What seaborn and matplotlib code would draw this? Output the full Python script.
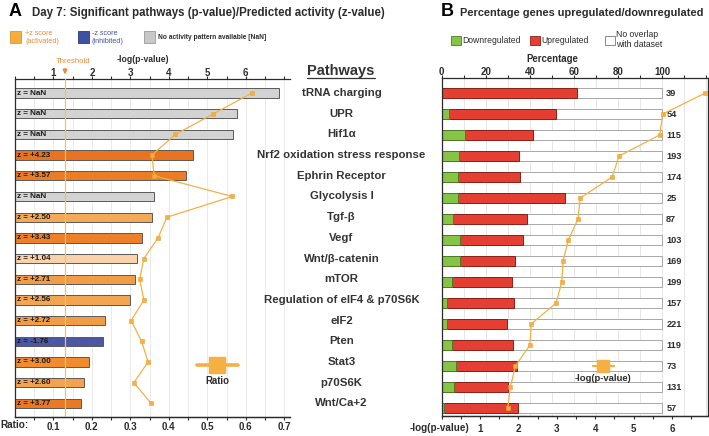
import numpy as np
import pandas as pd
import matplotlib
matplotlib.use("Agg")
import matplotlib.pyplot as plt
from matplotlib.colors import LinearSegmentedColormap
from matplotlib.patches import Rectangle
from matplotlib.lines import Line2D
from matplotlib.transforms import blended_transform_factory
import seaborn as sns

# values
pathways = ["tRNA charging", "UPR", "Hif1α", "Nrf2 oxidation stress response",
            "Ephrin Receptor", "Glycolysis I", "Tgf-β", "Vegf", "Wnt/β-catenin",
            "mTOR", "Regulation of eIF4 & p70S6K", "eIF2", "Pten", "Stat3",
            "p70S6K", "Wnt/Ca+2"]
neg_log_p = [6.87, 5.76, 5.68, 4.62, 4.44, 3.61, 3.55, 3.30, 3.16, 3.13,
             2.98, 2.33, 2.30, 1.92, 1.79, 1.72]
z_score = [np.nan, np.nan, np.nan, 4.23, 3.57, np.nan, 2.50, 3.43, 1.04, 2.71,
           2.56, 2.72, -1.76, 3.00, 2.60, 3.77]
ratio = [0.616, 0.516, 0.417, 0.356, 0.362, 0.565, 0.395, 0.372, 0.335, 0.324,
         0.335, 0.302, 0.329, 0.346, 0.309, 0.354]
down_pct = [0.0, 3.1, 10.7, 8.0, 7.2, 7.6, 5.2, 8.3, 8.3, 4.5, 2.6, 2.2, 4.5, 6.4, 5.7, 1.1]
up_pct = [61.4, 48.8, 30.9, 27.2, 28.3, 48.4, 33.7, 28.6, 24.8, 27.5, 30.2, 27.4,
          27.9, 27.8, 24.5, 33.7]
n_genes = [39, 54, 115, 193, 174, 25, 87, 103, 169, 199, 157, 221, 119, 73, 131, 57]
threshold = -np.log10(0.05)

df = pd.DataFrame({"pathway": pathways, "logp": neg_log_p, "z": z_score, "ratio": ratio,
                   "down": down_pct, "up": up_pct, "n": n_genes})
df["row"] = np.arange(len(df))
df["total"] = df["down"] + df["up"]
df["full"] = 100.0

sns.set_style("ticks")
plt.rcParams["font.family"] = ["Liberation Sans", "DejaVu Sans"]

W, H = 709, 436
fig = plt.figure(figsize=(W / 100, H / 100), dpi=100)


def fx(x):
    return x / W


def fy(y):
    return 1 - y / H


ORANGE_PT = "#f5b043"
DARK = "#2b2b2b"

zmap = LinearSegmentedColormap.from_list(
    "z", [(0, "#f9d3ae"), (0.45, "#f4aa58"), (0.6, "#f08c30"), (0.8, "#ec7b24"), (1, "#e9721f")])


def z_color(z):
    if np.isnan(z):
        return "#d3d3d3"
    if z < 0:
        return "#4a58a6"
    return zmap((z - 1.0) / 3.3)


def style_axis(a, side, ticks, labels, pad=1):
    if side == "top":
        a.xaxis.tick_top()
    else:
        a.xaxis.tick_bottom()
    a.set_xticks(ticks)
    a.set_xticklabels(labels, fontweight="bold", fontsize=7.0, color=DARK)
    a.tick_params(axis="x", direction="out", length=2.5, width=0.8, pad=pad, color=DARK)
    a.set_xlabel("")
    a.set_ylabel("")


palette = {p: z_color(z) for p, z in zip(df.pathway, df.z)}

# ---------------- panel A ----------------
ax = fig.add_axes([fx(15), fy(417), (290 - 15) / W, (417 - 79) / H])
sns.barplot(data=df, x="logp", y="pathway", hue="pathway", palette=palette, legend=False,
            width=0.45, saturation=1, errorbar=None, edgecolor="#5a5a5a", linewidth=0.7, ax=ax)
ax.axvline(threshold, color="#f7c352", lw=0.9, zorder=3)
for i, z in enumerate(df.z):
    lbl = "z = NaN" if np.isnan(z) else f"z = {z:+.2f}"
    ax.text(0.06, i, lbl, va="center", ha="left", fontsize=5.8, fontweight="bold", color="#1a1a1a")

axr = ax.twiny()
sns.lineplot(data=df, x="ratio", y="row", orient="y", sort=False, estimator=None, ax=axr,
             color=ORANGE_PT, lw=0.9, marker="s", ms=3.3, mec="#f0a030", mew=0.4)

ax.set_xlim(0, 7.15)
ax.set_ylim(15.66, -0.68)
ax.set_yticks([])
ticks = np.arange(0, 7.01, 0.5)
style_axis(ax, "top", ticks, [str(int(t)) if t % 1 == 0 and 1 <= t <= 6 else "" for t in ticks], pad=-1.5)
ax.grid(axis="x", color="#e6e6e6", lw=0.6)
ax.set_axisbelow(True)
ax.spines["right"].set_visible(False)
for s in ["left", "top", "bottom"]:
    ax.spines[s].set_linewidth(0.9)
    ax.spines[s].set_color(DARK)

axr.set_xlim(0, 0.715)
axr.set_ylim(15.66, -0.68)
rt = np.round(np.arange(0.05, 0.716, 0.05), 2)
style_axis(axr, "bottom", rt, [f"{t:.1f}" if round(t * 10) == t * 10 else "" for t in rt])
for s in ["right", "top", "left"]:
    axr.spines[s].set_visible(False)
axr.spines["bottom"].set_linewidth(0.9)
axr.spines["bottom"].set_color(DARK)

# pathway names between the panels
trans = blended_transform_factory(fig.transFigure, ax.transData)
for i, p in enumerate(df.pathway):
    ax.text(fx(341.5), i, p, transform=trans, ha="center", va="center", fontsize=8.2,
            fontweight="bold", color="#333333", clip_on=False)
fig.text(fx(341), fy(71), "Pathways", ha="center", va="center", fontsize=10.5,
         fontweight="bold", color="#333333")
fig.add_artist(Line2D([fx(306.5), fx(375.5)], [fy(78.5), fy(78.5)], transform=fig.transFigure,
                      color="#333333", lw=0.9))

# threshold label
fig.text(fx(73.5), fy(61.5), "Threshold", ha="center", va="center", fontsize=5.6, color="#ee8a3c")
ax.annotate("", xy=(threshold, 1.005), xycoords=ax.get_xaxis_transform(),
            xytext=(threshold, 1.038), textcoords=ax.get_xaxis_transform(),
            arrowprops=dict(arrowstyle="-|>", color="#ee8a3c", lw=1.2, mutation_scale=6))
fig.text(fx(143), fy(59), "-log(p-value)", ha="center", va="center", fontsize=6.2,
         fontweight="bold", color=DARK)
fig.text(fx(0.5), fy(424.5), "Ratio:", ha="left", va="center", fontsize=7.2,
         fontweight="bold", color=DARK)

# ratio key
fig.add_artist(Line2D([fx(197), fx(238)], [fy(365), fy(365)], transform=fig.transFigure,
                      color=ORANGE_PT, lw=2.6))
fig.add_artist(Line2D([fx(217)], [fy(365)], transform=fig.transFigure, marker="s", ms=11,
                      color=ORANGE_PT, mec=ORANGE_PT, lw=0))
fig.text(fx(217), fy(381), "Ratio", ha="center", va="center", fontsize=6.9,
         fontweight="bold", color=DARK)

# titles
fig.text(fx(9), fy(12), "A", ha="left", va="center", fontsize=13, fontweight="bold", color="black")
fig.text(fx(32), fy(13), "Day 7: Significant pathways (p-value)/Predicted activity (z-value)",
         ha="left", va="center", fontsize=8.3, fontweight="bold", color=DARK)
fig.text(fx(441), fy(12), "B", ha="left", va="center", fontsize=13, fontweight="bold", color="black")
fig.text(fx(460.5), fy(13), "Percentage genes upregulated/downregulated",
         ha="left", va="center", fontsize=7.9, fontweight="bold", color=DARK)

# legend A
for x0, col, ec in [(10, "#f5ad3c", "#e0962a"), (77.5, "#3f51a3", "#2c3a80"), (143.5, "#c8c8c8", "#9a9a9a")]:
    fig.add_artist(Rectangle((fx(x0), fy(43.5)), 11 / W, 12.5 / H, transform=fig.transFigure,
                             facecolor=col, edgecolor=ec, lw=0.6))
fig.text(fx(25), fy(37.5), "+z score\n(activated)", ha="left", va="center", fontsize=5.2,
         color="#ec8a3a", linespacing=1.25)
fig.text(fx(91.5), fy(37.5), "-z score\n(inhibited)", ha="left", va="center", fontsize=5.2,
         color="#4655a0", linespacing=1.25)
fig.text(fx(158.3), fy(37.7), "No activity pattern available [NaN]", ha="left", va="center",
         fontsize=4.8, fontweight="bold", color=DARK)

# ---------------- panel B ----------------
axb = fig.add_axes([fx(441.7), fy(416), (707.7 - 441.7) / W, (416 - 78.3) / H])
bar_kw = dict(y="pathway", width=0.44, saturation=1, errorbar=None, linewidth=0.7, ax=axb)
sns.barplot(data=df, x="full", color="white", edgecolor="#a8a8a8", **bar_kw)
sns.barplot(data=df, x="total", color="#e53f34", edgecolor="#8c1f18", **bar_kw)
sns.barplot(data=df, x="down", color="#86c445", edgecolor="#4f7a25", **bar_kw)
for i, n in enumerate(df.n):
    axb.text(101.8, i, str(n), va="center", ha="left", fontsize=6.6, fontweight="bold", color=DARK)

axb2 = axb.twiny()
sns.lineplot(data=df, x="logp", y="row", orient="y", sort=False, estimator=None, ax=axb2,
             color=ORANGE_PT, lw=0.9, marker="s", ms=3.3, mec="#f0a030", mew=0.4)

axb.set_xlim(0, 120.6)
axb.set_ylim(15.38, -0.70)
axb.set_yticks([])
pt = np.arange(0, 121, 10)
style_axis(axb, "top", pt, [str(t) if t % 20 == 0 and t <= 100 else "" for t in pt], pad=-1.5)
axb.grid(axis="x", color="#e2e2e2", lw=0.6)
axb.set_axisbelow(True)
for s in axb.spines.values():
    s.set_linewidth(0.9)
    s.set_color(DARK)

axb2.set_xlim(0, 6.93)
axb2.set_ylim(15.38, -0.70)
lt = np.arange(0, 6.6, 0.5)
style_axis(axb2, "bottom", lt, [str(int(t)) if t % 1 == 0 and 1 <= t <= 6 else "" for t in lt], pad=3)
for s in ["right", "top", "left"]:
    axb2.spines[s].set_visible(False)
axb2.spines["bottom"].set_linewidth(0.9)
axb2.spines["bottom"].set_color(DARK)

fig.text(fx(469.5), fy(428), "-log(p-value)", ha="right", va="center", fontsize=7.1,
         fontweight="bold", color=DARK)
fig.text(fx(552), fy(59), "Percentage", ha="center", va="center", fontsize=6.9,
         fontweight="bold", color=DARK)

# -log(p) key
fig.add_artist(Line2D([fx(592.5), fx(614)], [fy(365.5), fy(365.5)], transform=fig.transFigure,
                      color=ORANGE_PT, lw=1.6))
fig.add_artist(Line2D([fx(603.3)], [fy(365.5)], transform=fig.transFigure, marker="s", ms=8.5,
                      color=ORANGE_PT, mec=ORANGE_PT, lw=0))
fig.text(fx(603.3), fy(378), "-log(p-value)", ha="center", va="center", fontsize=6.8,
         fontweight="bold", color=DARK)

# legend B
for x0, col, ec in [(450.7, "#86c445", "#4f7a25"), (530, "#e53f34", "#8c1f18"), (605, "white", "#777777")]:
    fig.add_artist(Rectangle((fx(x0), fy(45.5)), 10 / W, 9.5 / H, transform=fig.transFigure,
                             facecolor=col, edgecolor=ec, lw=0.6))
fig.text(fx(462.3), fy(40.7), "Downregulated", ha="left", va="center", fontsize=6.2, color=DARK)
fig.text(fx(541.7), fy(40.7), "Upregulated", ha="left", va="center", fontsize=6.2, color=DARK)
fig.text(fx(616.5), fy(39.5), "No overlap\nwith dataset", ha="left", va="center", fontsize=6.2,
         color=DARK, linespacing=1.05)

fig.savefig("out.png", dpi=100)
